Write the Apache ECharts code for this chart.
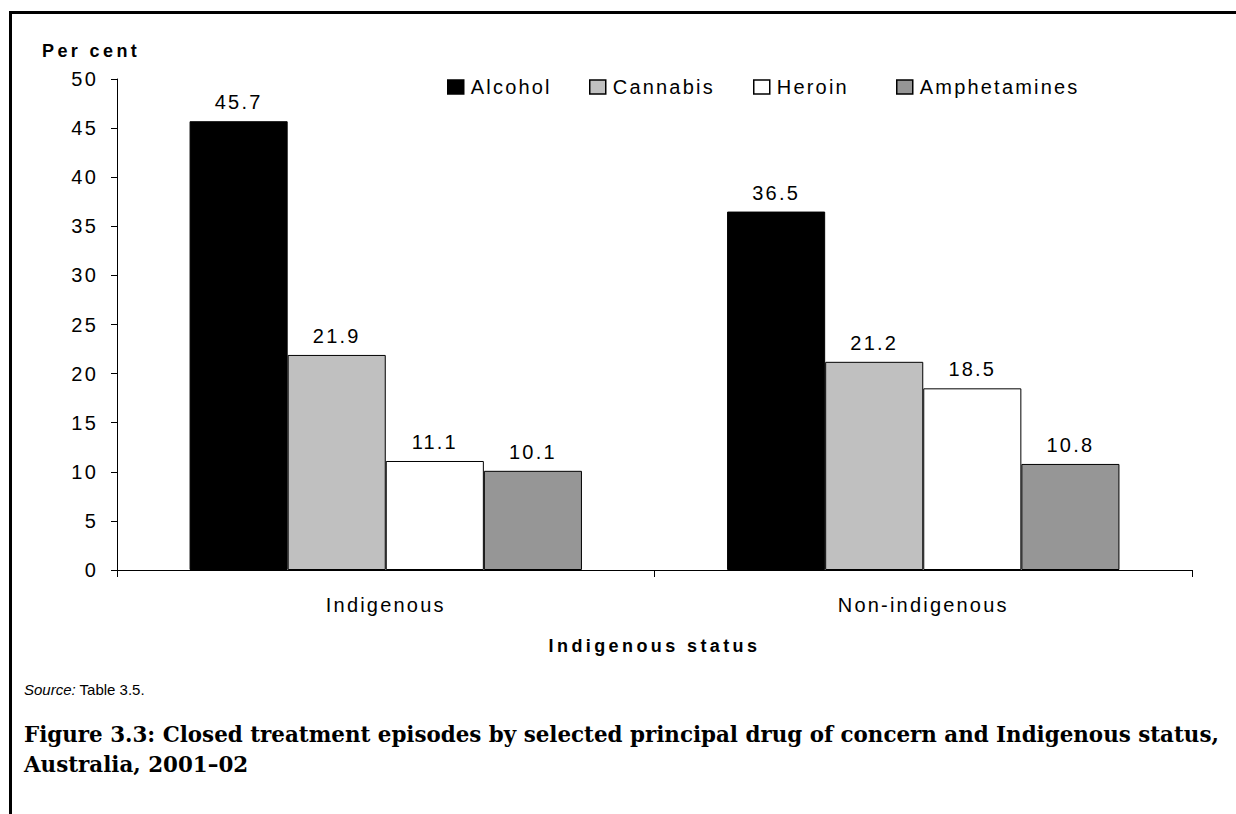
<!DOCTYPE html>
<html>
<head>
<meta charset="utf-8">
<script src="https://cdn.jsdelivr.net/npm/echarts@6/dist/echarts.min.js"></script>
<style>
html, body { margin: 0; padding: 0; background: #fff; }
#main { width: 1236px; height: 814px; }
#main text[style*="Liberation Sans"], #main text[font-family*="Liberation Sans"] { letter-spacing: 2.2px; }
#main text[style*="bold"][style*="Liberation Sans"], #main text[font-weight="bold"][font-family*="Liberation Sans"] { letter-spacing: 3.4px; }
</style>
</head>
<body>
<div id="main"></div>
<script>
// data
var categories = ['Indigenous', 'Non-indigenous'];
var drugs = ['Alcohol', 'Cannabis', 'Heroin', 'Amphetamines'];
var alcohol = [45.7, 36.5];
var cannabis = [21.9, 21.2];
var heroin = [11.1, 18.5];
var amphetamines = [10.1, 10.8];
var yMin = 0, yMax = 50, yStep = 5;

var values = [alcohol, cannabis, heroin, amphetamines];
var colors = ['#000000', '#c0c0c0', '#ffffff', '#969696'];
var legendLeft = [447, 589, 753, 896];

var sans = 'Liberation Sans';

var myChart = echarts.init(document.getElementById('main'), null, { renderer: 'svg' });

var option = {
  backgroundColor: '#fff',
  animation: false,
  grid: { left: 117, right: 44, top: 79, bottom: 244 },
  legend: drugs.map(function (d, i) {
    return {
      data: [d],
      left: legendLeft[i],
      top: 77,
      padding: 0,
      icon: 'rect',
      itemWidth: 16,
      itemHeight: 14,
      itemGap: 0,
      selectedMode: false,
      itemStyle: { borderColor: '#000', borderWidth: 1.5 },
      textStyle: { fontFamily: sans, fontSize: 20, color: '#000', padding: [4, 0, 0, 2] }
    };
  }),
  xAxis: {
    type: 'category',
    data: categories,
    name: 'Indigenous status',
    nameLocation: 'middle',
    nameGap: 67,
    nameTextStyle: { fontFamily: sans, fontSize: 18, fontWeight: 'bold', color: '#000' },
    axisLine: { lineStyle: { color: '#000', width: 1 } },
    axisTick: { show: true, length: 7, lineStyle: { color: '#000' } },
    axisLabel: { fontFamily: sans, fontSize: 20, color: '#000', margin: 25 }
  },
  yAxis: {
    type: 'value',
    min: yMin,
    max: yMax,
    interval: yStep,
    axisLine: { show: true, lineStyle: { color: '#000', width: 1 } },
    axisTick: { show: true, length: 6, lineStyle: { color: '#000' } },
    splitLine: { show: false },
    axisLabel: { fontFamily: sans, fontSize: 20, color: '#000', margin: 19 }
  },
  series: drugs.map(function (d, i) {
    return {
      name: d,
      type: 'bar',
      data: values[i],
      barGap: '0%',
      barCategoryGap: '27%',
      itemStyle: { color: colors[i], borderColor: '#000', borderWidth: 1 },
      label: {
        show: true,
        position: 'top',
        distance: 9,
        fontFamily: sans,
        fontSize: 20,
        color: '#000'
      }
    };
  }),
  graphic: [
    { type: 'line', shape: { x1: 10.5, y1: 12.5, x2: 1236, y2: 12.5 }, style: { stroke: '#000', lineWidth: 3 } },
    { type: 'line', shape: { x1: 10.5, y1: 11, x2: 10.5, y2: 814 }, style: { stroke: '#000', lineWidth: 3 } },
    {
      type: 'text', left: 42, top: 42,
      style: { text: 'Per cent', font: 'bold 18px "Liberation Sans"', fill: '#000' }
    },
    {
      type: 'text', left: 24, top: 682,
      style: {
        text: '{i|Source:} Table 3.5.',
        font: '15px Arial',
        fill: '#000',
        rich: { i: { fontStyle: 'italic', fontFamily: 'Arial', fontSize: 15 } }
      }
    },
    {
      type: 'text', left: 24, top: 719,
      style: {
        text: 'Figure 3.3: Closed treatment episodes by selected principal drug of concern and Indigenous status,\nAustralia, 2001\u201302',
        font: 'bold 21.4px "DejaVu Serif"',
        lineHeight: 30,
        fill: '#000'
      }
    }
  ]
};

myChart.setOption(option);
window.onresize = function () {
  myChart.resize();
};
</script>
</body>
</html>
